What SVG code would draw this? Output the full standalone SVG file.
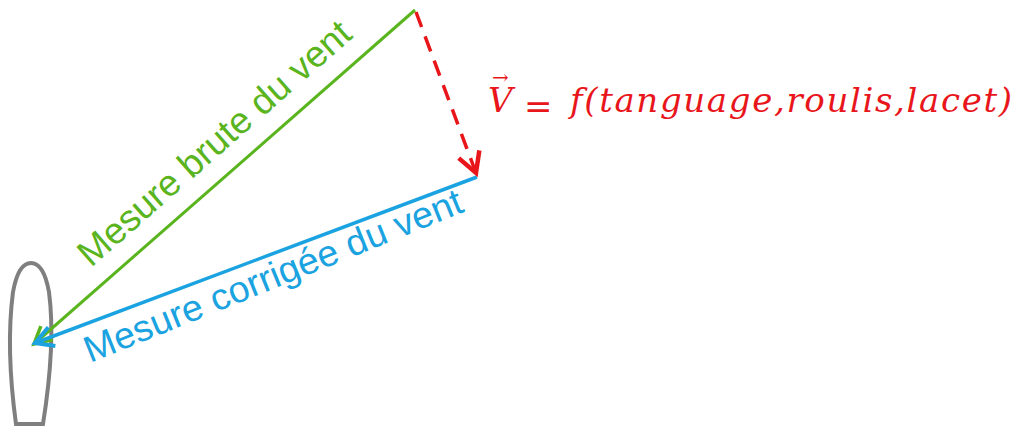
<svg xmlns="http://www.w3.org/2000/svg" width="1021" height="428" viewBox="0 0 1021 428">
<style>
.lbl{font-family:"Liberation Sans",Arial,sans-serif;font-size:37px}
.math{font-family:"DejaVu Serif","Liberation Serif",serif;font-style:italic;font-size:34px;fill:#e8161b}
</style>
<defs>
<marker id="mg" markerUnits="userSpaceOnUse" markerWidth="30" markerHeight="30" refX="0" refY="0" viewBox="-20 -15 25 30" orient="auto">
<path d="M-17,-9 L0,0 L-17,9" fill="none" stroke="#5ab41e" stroke-width="3.5"/>
</marker>
<marker id="mb" markerUnits="userSpaceOnUse" markerWidth="30" markerHeight="30" refX="0" refY="0" viewBox="-20 -15 25 30" orient="auto">
<path d="M-18,-10 L0,0 L-18,10" fill="none" stroke="#1aa3e0" stroke-width="4"/>
</marker>
<marker id="mr" markerUnits="userSpaceOnUse" markerWidth="30" markerHeight="30" refX="0" refY="0" viewBox="-20 -15 25 30" orient="auto">
<path d="M-20,-11 L0,0 L-20,11" fill="none" stroke="#e8161b" stroke-width="4.5"/>
</marker>
</defs>
<g id="boat">
<path d="M16,424 L43,424 C50,380 54,330 49,292 C45,270 38,263 31,263 C24,263 17,270 13,292 C8,330 10,380 16,424 Z" fill="none" stroke="#7f7f7f" stroke-width="4"/>
</g>
<g id="connectors">
<line x1="415" y1="10" x2="34" y2="344" stroke="#5ab41e" stroke-width="3" marker-end="url(#mg)"/>
<line x1="477" y1="177" x2="35" y2="343" stroke="#1aa3e0" stroke-width="3.5" marker-end="url(#mb)"/>
<line x1="416" y1="12" x2="476" y2="173" stroke="#e8161b" stroke-width="3.5" stroke-dasharray="16,10" marker-end="url(#mr)"/>
</g>
<g id="label-brute">
<text class="lbl" fill="#5ab41e" transform="translate(91,268) rotate(-41.3)" textLength="350" lengthAdjust="spacingAndGlyphs">Mesure brute du vent</text>
</g>
<g id="label-corrigee">
<text class="lbl" fill="#1aa3e0" transform="translate(90,363) rotate(-22)" textLength="405" lengthAdjust="spacingAndGlyphs">Mesure corrigée du vent</text>
</g>
<g id="formula">
<text class="math" x="492" y="84" style="font-style:normal;font-size:20px">→</text>
<text class="math" x="488" y="112">V</text>
<text class="math" x="524" y="118" style="font-style:normal">=</text>
<text class="math" x="570" y="112" textLength="442" lengthAdjust="spacing">f(tanguage,roulis,lacet)</text>
</g>
</svg>
